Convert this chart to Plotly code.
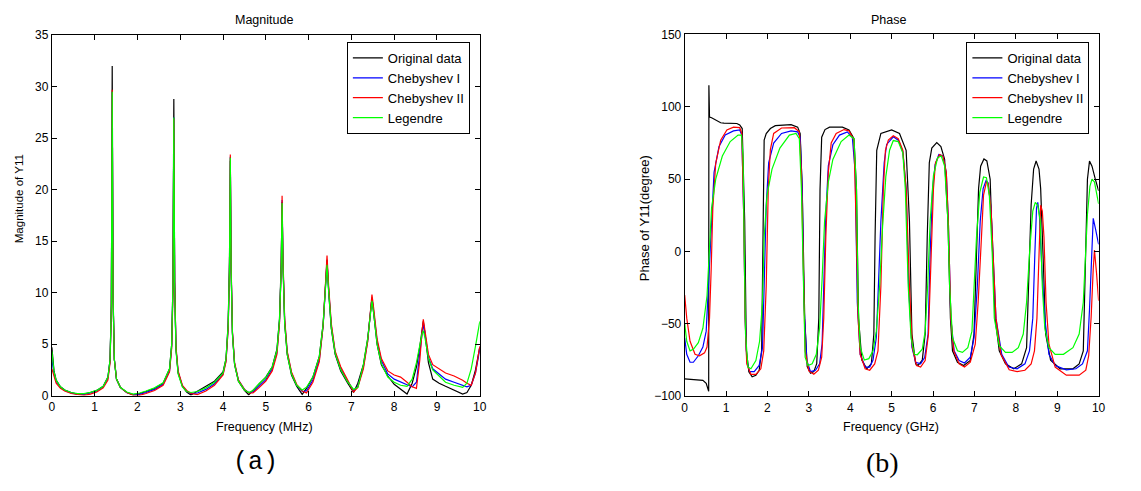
import plotly.graph_objects as go

# ---------------- Magnitude data (frequency in MHz) ----------------
MAG_FREQ = [0, 0.05, 0.1, 0.2, 0.3, 0.45, 0.6, 0.75, 0.9, 1.05,
            1.2, 1.31, 1.36, 1.39, 1.41, 1.43, 1.46, 1.51, 1.6, 1.75,
            1.9, 2.05, 2.2, 2.4, 2.6, 2.75, 2.8, 2.83, 2.85, 2.87,
            2.9, 2.95, 3.05, 3.15, 3.25, 3.4, 3.6, 3.8, 4.0, 4.07,
            4.12, 4.15, 4.17, 4.19, 4.22, 4.27, 4.36, 4.5, 4.6, 4.7,
            4.85, 5.0, 5.15, 5.26, 5.32, 5.36, 5.38, 5.40, 5.44, 5.5,
            5.6, 5.72, 5.85, 5.95, 6.1, 6.25, 6.34, 6.39, 6.43, 6.47,
            6.53, 6.62, 6.75, 6.9, 7.05, 7.15, 7.28, 7.38, 7.44, 7.48,
            7.52, 7.6, 7.7, 7.85, 8.0, 8.15, 8.3, 8.42, 8.52, 8.6,
            8.65, 8.68, 8.72, 8.8, 8.9, 9.05, 9.2, 9.4, 9.6, 9.7,
            9.8, 9.9, 10.0]

MAG_ORIG = [4.7, 2.4, 1.5, 0.85, 0.55, 0.3, 0.15, 0.15, 0.3, 0.5,
            0.9, 1.8, 3.5, 9, 32, 10, 3.5, 1.6, 0.8, 0.3,
            0.1, 0.2, 0.4, 0.7, 1.2, 2.6, 5, 11, 28.8, 11,
            4.5, 2.2, 0.9, 0.35, 0.05, 0.45, 0.9, 1.4, 2.3, 3.6,
            7, 13, 22.8, 12, 6, 3, 1.4, 0.5, 0.08, 0.5,
            1.1, 1.8, 2.8, 4.5, 7.5, 13, 18.8, 13, 7, 4,
            2, 0.9, 0.12, 0.7, 1.8, 3.8, 7, 10.5, 13.2, 10,
            6.5, 4, 2.4, 1.3, 0.3, 1.2, 3, 5.5, 8, 9.5,
            8, 5, 3, 1.9, 1.1, 0.6, 0.15, 1.2, 2.8, 4.8,
            6.4, 7.2, 6, 3.2, 1.6, 1.2, 0.9, 0.5, 0.15, 0.3,
            1.0, 2.5, 4.7]

MAG_CHEB1 = [3.5, 2.1, 1.4, 0.8, 0.5, 0.25, 0.12, 0.12, 0.25, 0.45,
             0.85, 1.7, 3.4, 8.7, 29.5, 9.5, 3.5, 1.6, 0.8, 0.3,
             0.08, 0.12, 0.3, 0.6, 1.1, 2.4, 4.8, 10.5, 27, 11,
             4.6, 2.3, 0.95, 0.45, 0.2, 0.25, 0.6, 1.15, 2.1, 3.4,
             6.6, 12, 23.2, 12.3, 6.1, 3.1, 1.5, 0.6, 0.3, 0.35,
             0.95, 1.55, 2.6, 4.2, 7.2, 12.5, 19.0, 13.2, 7.3, 4.2,
             2.2, 1.0, 0.4, 0.45, 1.5, 3.5, 6.8, 10.2, 13.0, 10.2,
             6.8, 4.2, 2.6, 1.5, 0.5, 0.9, 2.8, 5.3, 7.9, 9.5,
             8.2, 5.3, 3.4, 2.1, 1.6, 1.3, 1.05, 0.85, 1.3, 4.2,
             6.2, 7.0, 6.0, 3.7, 2.6, 2.1, 1.6, 1.3, 1.0, 0.85,
             1.0, 2.2, 4.5]

MAG_CHEB2 = [2.6, 1.8, 1.2, 0.7, 0.45, 0.2, 0.08, 0.02, 0.15, 0.35,
             0.75, 1.5, 3.2, 8.5, 29.7, 9.5, 3.5, 1.6, 0.8, 0.3,
             0.05, 0.02, 0.2, 0.5, 1.0, 2.3, 4.6, 10, 26.9, 11,
             4.8, 2.4, 1.0, 0.5, 0.2, 0.1, 0.45, 1.0, 2.0, 3.3,
             6.5, 12, 23.4, 12.5, 6.2, 3.2, 1.5, 0.6, 0.25, 0.25,
             0.8, 1.4, 2.4, 4.0, 7, 12.5, 19.4, 13.5, 7.5, 4.3,
             2.3, 1.1, 0.45, 0.25, 1.3, 3.3, 6.8, 10.5, 13.6, 10.5,
             7, 4.3, 2.8, 1.6, 0.35, 0.8, 2.6, 5.2, 8, 9.8,
             8.5, 5.5, 3.6, 2.4, 2.0, 1.8, 1.3, 0.85, 0.7, 3.5,
             6.2, 7.4, 6.3, 4.0, 3.0, 2.6, 2.2, 1.9, 1.5, 1.2,
             1.0, 2.2, 4.8]

MAG_LEG = [4.3, 2.3, 1.5, 0.85, 0.55, 0.3, 0.2, 0.2, 0.32, 0.5,
           0.9, 1.8, 3.5, 8.8, 29.5, 9.6, 3.5, 1.6, 0.8, 0.35,
           0.15, 0.25, 0.45, 0.75, 1.25, 2.6, 5, 11, 27, 10.5,
           4.4, 2.1, 0.85, 0.4, 0.3, 0.4, 0.75, 1.3, 2.2, 3.6,
           6.9, 12.5, 23.1, 12, 5.9, 3.0, 1.4, 0.55, 0.3, 0.5,
           1.2, 1.75, 2.8, 4.4, 7.4, 12.5, 18.7, 12.8, 7, 4,
           2.1, 1.0, 0.55, 0.8, 1.8, 3.8, 7.0, 10.2, 12.7, 10,
           6.6, 4.1, 2.5, 1.4, 0.6, 0.8, 3.0, 5.5, 8, 9.2,
           8, 5, 3.1, 1.8, 1.3, 1.0, 0.9, 1.6, 3.2, 5.0,
           6.0, 6.3, 5.6, 3.6, 2.5, 1.9, 1.3, 1.0, 0.8, 1.2,
           2.6, 4.8, 7.2]

# ---------------- Phase data (frequency in GHz) ----------------
PH_ORIG_X = [0, 0.2, 0.44, 0.52, 0.57, 0.58, 0.585, 0.6, 0.65, 0.71,
             0.79, 0.87, 0.95, 1.26, 1.33, 1.39, 1.45, 1.49, 1.55, 1.63,
             1.72, 1.8, 1.86, 1.89, 1.92, 1.97, 2.07, 2.19, 2.57, 2.73,
             2.79, 2.84, 2.9, 2.96, 3.04, 3.12, 3.19, 3.24, 3.27, 3.31,
             3.39, 3.5, 3.81, 3.97, 4.09, 4.15, 4.2, 4.28, 4.4, 4.51,
             4.57, 4.6, 4.64, 4.74, 5.0, 5.19, 5.35, 5.43, 5.49, 5.58,
             5.64, 5.74, 5.81, 5.86, 5.91, 5.97, 6.09, 6.19, 6.28, 6.36,
             6.42, 6.47, 6.59, 6.74, 6.9, 6.99, 7.05, 7.1, 7.15, 7.23,
             7.3, 7.38, 7.44, 7.5, 7.6, 7.75, 7.95, 8.14, 8.26, 8.31,
             8.37, 8.43, 8.49, 8.56, 8.6, 8.67, 8.72, 8.84, 9.07, 9.38,
             9.53, 9.63, 9.69, 9.73, 9.78, 9.84, 9.92, 10.0]
PH_ORIG_Y = [-88, -88.5, -89, -91, -96, -96.5, 115, 93, 92.5, 91.5,
             90.5, 89, 88.8, 88.5, 87.5, 85, 21, -68, -83, -86.5,
             -85.5, -82, -68, -1, 77, 81.5, 85, 87, 87.7, 86,
             81.5, 43, -46, -79.5, -84, -83, -77.5, -46, 43, 79,
             84.3, 86, 86, 84, 78, 43, -46, -75, -81, -77.5,
             -57, 10, 70, 81.6, 84, 81.6, 70, 21, -57, -77.6,
             -78.7, -75, -57, 10, 61.4, 71.5, 75.3, 72.6, 63.7, 21,
             -46, -68.6, -76.5, -78.7, -75.3, -57, -1.3, 43.5, 59, 64,
             62.6, 50, -1.3, -46, -68.6, -77.6, -81, -77.6, -66.4, -23.8,
             32.3, 57, 62.6, 57, 43.5, -12.5, -57, -75, -81, -81,
             -77.6, -68.6, -1.3, 50, 62.5, 59, 50, 42]

PH_CHEB1_X = [0, 0.05, 0.13, 0.21, 0.33, 0.44, 0.52, 0.57, 0.64, 0.71,
              0.83, 0.98, 1.18, 1.33, 1.38, 1.43, 1.46, 1.5, 1.57, 1.68,
              1.8, 1.88, 1.92, 1.97, 2.03, 2.15, 2.34, 2.57, 2.73, 2.79,
              2.84, 2.88, 2.95, 3.04, 3.16, 3.26, 3.32, 3.36, 3.41, 3.47,
              3.58, 3.74, 3.93, 4.05, 4.12, 4.17, 4.24, 4.36, 4.47, 4.55,
              4.63, 4.68, 4.74, 4.82, 4.88, 5.04, 5.16, 5.27, 5.35, 5.41,
              5.49, 5.58, 5.7, 5.8, 5.88, 5.93, 5.99, 6.05, 6.14, 6.24,
              6.32, 6.37, 6.43, 6.51, 6.63, 6.76, 6.9, 6.99, 7.07, 7.14,
              7.21, 7.28, 7.33, 7.4, 7.46, 7.52, 7.66, 7.83, 8.03, 8.22,
              8.33, 8.41, 8.46, 8.5, 8.53, 8.57, 8.63, 8.7, 8.8, 8.95,
              9.22, 9.45, 9.61, 9.73, 9.78, 9.83, 9.87, 9.93, 10.0]
PH_CHEB1_Y = [-59.6, -71, -76.5, -76.5, -72, -66, -55, -23.8, 21, 54.7,
              72.6, 80.5, 83.4, 84, 80.5, 21, -46, -75.3, -83, -83,
              -78.7, -66.4, -23.8, 32, 61.4, 75, 81.6, 83.4, 82.7, 79,
              43.5, -35, -75.3, -83, -82, -77.6, -64, -23.8, 25.6, 59.2,
              73.8, 80.5, 82.7, 79, 54.7, -35, -71, -79.8, -79.8, -75,
              -59.6, -23.8, 21, 61.4, 74, 79.3, 77, 69, 43.5, -23.8,
              -66, -76.5, -77.6, -73, -57, -1.3, 43.5, 60, 67, 66,
              54.7, 21, -46, -68.6, -75.3, -77, -73, -59.6, -23.8, 21,
              43.5, 49, 47.5, 30, -12.5, -46, -71, -79.8, -81, -77.6,
              -68.6, -46, -1.3, 30, 34, 25, -12.5, -46, -71, -78.7,
              -81.7, -81, -77.6, -68.6, -40, -5, 23, 15, 5]

PH_CHEB2_X = [0, 0.05, 0.13, 0.25, 0.36, 0.48, 0.54, 0.6, 0.64, 0.68,
              0.75, 0.87, 1.02, 1.18, 1.33, 1.38, 1.43, 1.46, 1.5, 1.6,
              1.72, 1.84, 1.91, 1.97, 2.02, 2.07, 2.15, 2.34, 2.65, 2.77,
              2.82, 2.87, 2.91, 3.0, 3.12, 3.23, 3.31, 3.36, 3.41, 3.47,
              3.54, 3.66, 3.85, 3.97, 4.09, 4.14, 4.19, 4.24, 4.36, 4.47,
              4.59, 4.67, 4.74, 4.8, 4.85, 4.92, 5.04, 5.16, 5.27, 5.35,
              5.43, 5.5, 5.6, 5.7, 5.81, 5.89, 5.95, 6.01, 6.06, 6.16,
              6.24, 6.32, 6.37, 6.43, 6.5, 6.63, 6.76, 6.9, 7.02, 7.09,
              7.17, 7.22, 7.29, 7.33, 7.4, 7.46, 7.52, 7.64, 7.84, 8.03,
              8.22, 8.37, 8.45, 8.51, 8.56, 8.6, 8.64, 8.68, 8.73, 8.8,
              8.95, 9.22, 9.53, 9.69, 9.76, 9.82, 9.87, 9.9, 9.95, 10.0]
PH_CHEB2_Y = [-30, -46, -62, -71, -72, -70, -66, -46, -12.5, 30,
              61, 77, 84, 86, 85.6, 81.6, 21, -46, -77.6, -84.8,
              -84.8, -81, -68.6, -23.8, 43.5, 70.4, 81.6, 85.4, 85.6, 82.7,
              54.7, -23.8, -68.6, -82.5, -84.8, -82, -73, -46, 10, 54.7,
              75, 81.6, 84.3, 83.4, 77, 21, -46, -71, -81, -82,
              -77.6, -68.6, -23.8, 43.5, 70, 77, 80, 78, 70, 43.5,
              -23.8, -66, -78.7, -79.8, -75.3, -57, -1.3, 43.5, 61.4, 67,
              66, 54.7, 21, -46, -68.6, -77.6, -79.8, -76.5, -64, -35,
              10, 39, 48, 47, 30, -12.5, -46, -71, -81.7, -83,
              -82, -77.6, -68.6, -46, -1.3, 32, 28, 10, -35, -64,
              -79.8, -85.4, -85.4, -82, -72, -45, -12, 1, -15, -34]

PH_LEG_X = [0, 0.05, 0.13, 0.21, 0.33, 0.44, 0.54, 0.6, 0.65, 0.75,
            0.91, 1.1, 1.29, 1.37, 1.41, 1.44, 1.47, 1.53, 1.6, 1.72,
            1.81, 1.88, 1.92, 1.99, 2.11, 2.3, 2.53, 2.69, 2.77, 2.82,
            2.87, 2.91, 2.98, 3.08, 3.18, 3.26, 3.32, 3.38, 3.47, 3.58,
            3.78, 3.97, 4.09, 4.15, 4.19, 4.24, 4.34, 4.45, 4.55, 4.63,
            4.71, 4.78, 4.86, 4.95, 5.04, 5.16, 5.27, 5.33, 5.4, 5.47,
            5.55, 5.62, 5.74, 5.81, 5.87, 5.93, 6.01, 6.11, 6.2, 6.28,
            6.36, 6.4, 6.47, 6.59, 6.71, 6.84, 6.94, 7.0, 7.05, 7.13,
            7.22, 7.29, 7.36, 7.43, 7.48, 7.6, 7.75, 7.91, 8.06, 8.18,
            8.26, 8.34, 8.41, 8.47, 8.53, 8.59, 8.64, 8.7, 8.8, 8.95,
            9.15, 9.38, 9.53, 9.63, 9.69, 9.73, 9.79, 9.84, 9.9, 10.0]
PH_LEG_Y = [-49.6, -62, -68.6, -67.5, -63, -53, -30.5, -1.3, 30, 50,
            66, 76, 80.5, 80.5, 66, -1.3, -57, -79.8, -81, -75.3,
            -62, -35, 10, 39, 57, 71.5, 80.5, 81.6, 78, 43.5,
            -35, -73, -78.7, -77.6, -71, -53, -19, 21, 48, 63.7,
            76, 80.5, 78, 43.5, -35, -66, -75, -74, -68.6, -55,
            -23.8, 16.6, 52, 70, 76.7, 76, 68, 43.5, -23.8, -59.6,
            -71, -71.3, -67.5, -55, -23.8, 21, 52.5, 64.8, 66, 59,
            21, -23.8, -59.6, -68.6, -69.7, -66.4, -55, -23.8, 10, 41,
            51.5, 51, 39, -1.3, -46, -65, -69.7, -69.7, -66.4, -57,
            -35, 3, 28, 34, 32, 21, -23.8, -53, -66.4, -71,
            -71, -66.4, -57, -35, -1.3, 25.6, 45, 50, 48, 33]

SERIES_NAMES = ["Original data", "Chebyshev I", "Chebyshev II", "Legendre"]
SERIES_COLORS = ["#000000", "#0000FF", "#FF0000", "#00FF00"]

X_TICKS = list(range(0, 11))
MAG_TICKS = [0, 5, 10, 15, 20, 25, 30, 35]
PH_TICKS = [-100, -50, 0, 50, 100, 150]

for ys in (MAG_ORIG, MAG_CHEB1, MAG_CHEB2, MAG_LEG):
    assert len(ys) == len(MAG_FREQ)
for xs, ys in ((PH_ORIG_X, PH_ORIG_Y), (PH_CHEB1_X, PH_CHEB1_Y),
               (PH_CHEB2_X, PH_CHEB2_Y), (PH_LEG_X, PH_LEG_Y)):
    assert len(xs) == len(ys)

W, H = 1141, 491
FONT = "Liberation Sans, Arial, sans-serif"

def px(x):
    return x / W

def py(y):
    return 1 - y / H

fig = go.Figure()

mag_series = [MAG_ORIG, MAG_CHEB1, MAG_CHEB2, MAG_LEG]
for name, color, ys in zip(SERIES_NAMES, SERIES_COLORS, mag_series):
    fig.add_trace(go.Scatter(x=MAG_FREQ, y=ys, mode="lines", name=name,
                             line=dict(color=color, width=1.2),
                             xaxis="x", yaxis="y", legend="legend"))

ph_series = [(PH_ORIG_X, PH_ORIG_Y), (PH_CHEB1_X, PH_CHEB1_Y),
             (PH_CHEB2_X, PH_CHEB2_Y), (PH_LEG_X, PH_LEG_Y)]
for name, color, (xs, ys) in zip(SERIES_NAMES, SERIES_COLORS, ph_series):
    fig.add_trace(go.Scatter(x=xs, y=ys, mode="lines", name=name,
                             line=dict(color=color, width=1.2),
                             xaxis="x2", yaxis="y2", legend="legend2"))

axis_common = dict(showline=True, linecolor="black", linewidth=1, mirror="ticks",
                   ticks="inside", ticklen=5, tickcolor="black", tickwidth=1,
                   showgrid=False, zeroline=False,
                   tickfont=dict(family=FONT, size=12, color="black"))

legend_common = dict(xanchor="right", yanchor="top",
                     bgcolor="white", bordercolor="black", borderwidth=1,
                     font=dict(family=FONT, size=13, color="black"),
                     tracegroupgap=0, itemwidth=30)

fig.update_layout(
    width=W, height=H,
    margin=dict(l=0, r=0, t=0, b=0),
    paper_bgcolor="white", plot_bgcolor="white",
    xaxis=dict(domain=[px(49.3), px(481)], range=[0, 10], tickvals=X_TICKS,
               anchor="y", **axis_common),
    yaxis=dict(domain=[py(400), py(29)], range=[0, 35], tickvals=MAG_TICKS,
               anchor="x", **axis_common),
    xaxis2=dict(domain=[px(687.7), px(1105.3)], range=[0, 10], tickvals=X_TICKS,
                anchor="y2", **axis_common),
    yaxis2=dict(domain=[py(400.7), py(28.3)], range=[-100, 150], tickvals=PH_TICKS,
                anchor="x2", **axis_common),
    legend=dict(x=px(471), y=py(36), **legend_common),
    legend2=dict(x=px(1096), y=py(36), **legend_common),
    showlegend=True,
)

annots = [
    dict(text="Magnitude", x=px(263), y=py(13), size=12.5, family=FONT, angle=0),
    dict(text="Phase", x=px(893), y=py(13), size=12.5, family=FONT, angle=0),
    dict(text="Frequency (MHz)", x=px(264), y=py(432), size=12.5, family=FONT, angle=0),
    dict(text="Frequency (GHz)", x=px(896), y=py(432), size=12.5, family=FONT, angle=0),
    dict(text="Magnitude of Y11", x=px(17), y=py(197), size=11.5, family=FONT, angle=-90),
    dict(text="Phase of Y11(degree)", x=px(647), y=py(217), size=13, family=FONT, angle=-90),
    dict(text="(a)", x=px(255), y=py(469), size=25,
         family="Liberation Mono, Courier New, monospace", angle=0),
    dict(text="(b)", x=px(887), y=py(469), size=28,
         family="Liberation Serif, Times New Roman, serif", angle=0),
]
for a in annots:
    fig.add_annotation(text=a["text"], x=a["x"], y=a["y"], xref="paper", yref="paper",
                       xanchor="center", yanchor="middle", showarrow=False,
                       textangle=a["angle"],
                       font=dict(family=a["family"], size=a["size"], color="black"))

fig.write_html("out.html")
